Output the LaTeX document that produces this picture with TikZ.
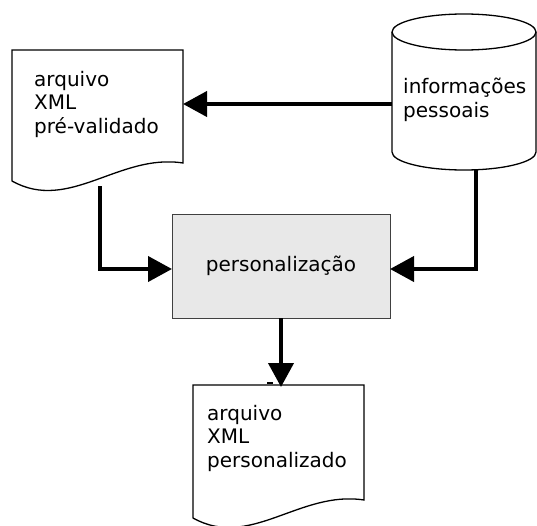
\documentclass[tikz,border=0pt]{standalone}
\usepackage{fontspec}
\setmainfont{DejaVu Sans}
\usetikzlibrary{arrows.meta}
\begin{document}
\begin{tikzpicture}[x=1pt,y=-1pt,
  shapeline/.style={line width=1.3pt, draw=black},
  flow/.style={line width=4pt, -{Triangle[length=24pt,width=25pt]}},
  txt/.style={font=\fontsize{20}{23.5}\selectfont, align=left, inner sep=0pt, anchor=base west},
  procbox/.style={draw=black!75, line width=1.3pt, fill=black!9, minimum width=218pt, minimum height=104pt, inner sep=0pt, anchor=north west}]
  \useasboundingbox (0,0) rectangle (537,525);

  % document: pre-validated XML (text anchored at its last baseline)
  \draw[shapeline, fill=white] (12,181) -- (12,50) -- (183,50) -- (183,163)
     .. controls (119,153) and (69,213) .. (12,181) -- cycle;
  \node[txt] (doc1text) at (34,133) {arquivo\\XML\\pré-validado};

  % database cylinder: personal information
  \draw[shapeline, fill=white] (392,32) -- (392,152)
     arc[start angle=180, end angle=360, x radius=72pt, y radius=18pt] -- (536,32);
  \draw[shapeline] (464,32) ellipse[x radius=72pt, y radius=18pt];
  \node[txt] (dbtext) at (403,117) {informações\\pessoais};

  % processing step
  \node[procbox] (proc) at (172,214) {};
  \node[font=\fontsize{20}{23.5}\selectfont, inner sep=0pt, anchor=base] (proctext) at (281,271) {personalização};

  % document: personalized XML
  \draw[shapeline, fill=white] (193,518) -- (193,385) -- (364,385) -- (364,500)
     .. controls (300,490) and (250,550) .. (193,518) -- cycle;
  \node[txt] (doc2text) at (207,467) {arquivo\\XML\\personalizado};
  % small tick on the top edge of the personalized document
  \coordinate (tickA) at (267,383);
  \coordinate (tickB) at (273,383);
  \draw[line width=1.3pt] (tickA) -- (tickB);

  % connection points
  \coordinate (dbW) at (392,104);
  \coordinate (doc1E) at (183,104);
  \coordinate (doc1S) at (100,186);
  \coordinate (procW) at (172,269);
  \coordinate (dbS) at (476,170);
  \coordinate (procE) at (390,269);
  \coordinate (procS) at (281,318);
  \coordinate (doc2N) at (281,387);

  % flows
  \draw[flow] (dbW) -- (doc1E);
  \draw[flow] (doc1S) |- (procW);
  \draw[flow] (dbS) |- (procE);
  \draw[flow] (procS) -- (doc2N);
\end{tikzpicture}
\end{document}
